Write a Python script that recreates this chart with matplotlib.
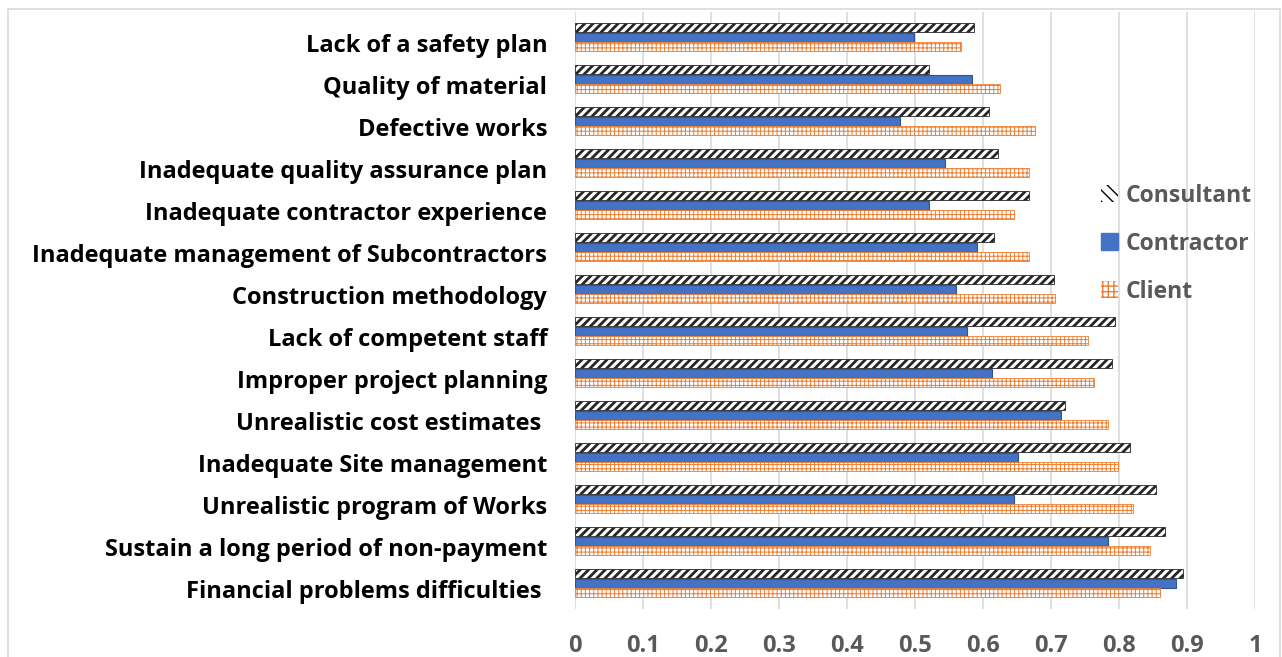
import matplotlib.pyplot as plt
import matplotlib.transforms as mtransforms
from matplotlib.patches import Patch, Rectangle
import numpy as np

plt.rcParams['font.family'] = ['Open Sans', 'DejaVu Sans']

# categories top to bottom, as in the chart
categories = [
    "Lack of a safety plan",
    "Quality of material",
    "Defective works",
    "Inadequate quality assurance plan",
    "Inadequate contractor experience",
    "Inadequate management of Subcontractors",
    "Construction methodology",
    "Lack of competent staff",
    "Improper project planning",
    "Unrealistic cost estimates ",
    "Inadequate Site management",
    "Unrealistic program of Works",
    "Sustain a long period of non-payment",
    "Financial problems difficulties ",
]
consultant = [0.587, 0.520, 0.609, 0.622, 0.667, 0.616, 0.704, 0.794, 0.789,
              0.721, 0.816, 0.855, 0.867, 0.894]
contractor = [0.498, 0.584, 0.478, 0.544, 0.521, 0.591, 0.561, 0.576, 0.613,
              0.714, 0.652, 0.645, 0.784, 0.884]
client = [0.568, 0.625, 0.676, 0.667, 0.645, 0.667, 0.706, 0.754, 0.763,
          0.784, 0.799, 0.821, 0.845, 0.861]
xticks = [0, 0.1, 0.2, 0.3, 0.4, 0.5, 0.6, 0.7, 0.8, 0.9, 1]
xticklabels = ["0", "0.1", "0.2", "0.3", "0.4", "0.5", "0.6", "0.7", "0.8", "0.9", "1"]

BLUE = '#4472C4'
ORANGE = '#ED7D31'
GRAY = '#595959'

fig = plt.figure(figsize=(12.82, 6.57), dpi=100)
ax = fig.add_axes([575 / 1282, 48.3 / 657, 680 / 1282, 596.9 / 657])

y = np.arange(len(categories))
h = 0.215
off = 0.226

with plt.rc_context({'hatch.linewidth': 2.0}):
    ax.barh(y - off, consultant, height=h, color='white', edgecolor='#262626',
            hatch='////', linewidth=0.6, zorder=3)
ax.barh(y, contractor, height=h, color=BLUE, edgecolor='#2F5597',
        linewidth=0.8, zorder=3)
with plt.rc_context({'hatch.linewidth': 0.7}):
    ax.barh(y + off, client, height=h, color='white', edgecolor=ORANGE,
            hatch='++++', linewidth=0.6, zorder=3)

ax.set_xlim(0, 1)
ax.set_ylim(13.6, -0.6)
ax.set_yticks(y)
ax.set_yticklabels(categories, fontsize=17, fontweight='bold', color='black')
ax.set_xticks(xticks)
ax.set_xticklabels(xticklabels, fontsize=17, fontweight='bold', color=GRAY)
ax.tick_params(axis='both', length=0)
ax.tick_params(axis='y', pad=20)
ax.tick_params(axis='x', pad=18)

# labels sit a bit lower than the bar groups in the original
offset = mtransforms.ScaledTranslation(0, -6 / 100, fig.dpi_scale_trans)
for lab in ax.get_yticklabels():
    lab.set_transform(lab.get_transform() + offset)

ax.grid(axis='x', color='#D9D9D9', linewidth=1.2, zorder=0)
for s in ax.spines.values():
    s.set_visible(False)

with plt.rc_context({'hatch.linewidth': 2.5}):
    h_cons = Patch(facecolor='white', edgecolor='black', hatch='\\\\\\', linewidth=0)
h_cont = Patch(facecolor=BLUE, edgecolor=BLUE)
with plt.rc_context({'hatch.linewidth': 1.6}):
    h_cli = Patch(facecolor='white', edgecolor=ORANGE, hatch='+++', linewidth=0)
leg = fig.legend([h_cons, h_cont, h_cli], ["Consultant", "Contractor", "Client"],
                 loc='upper left', bbox_to_anchor=(1080 / 1282, 1 - 163 / 657),
                 frameon=False, prop={'size': 16.5, 'weight': 'bold'},
                 labelspacing=1.05, handlelength=0.75, handleheight=0.75,
                 handletextpad=0.35)
for t in leg.get_texts():
    t.set_color(GRAY)

# light chart-area border
fig.patches.append(Rectangle((8 / 1282, -0.05), 1272 / 1282, 1 - 9 / 657 + 0.05,
                             transform=fig.transFigure, fill=False,
                             edgecolor='#D9D9D9', linewidth=1.2))

plt.savefig('out.png', dpi=100)
